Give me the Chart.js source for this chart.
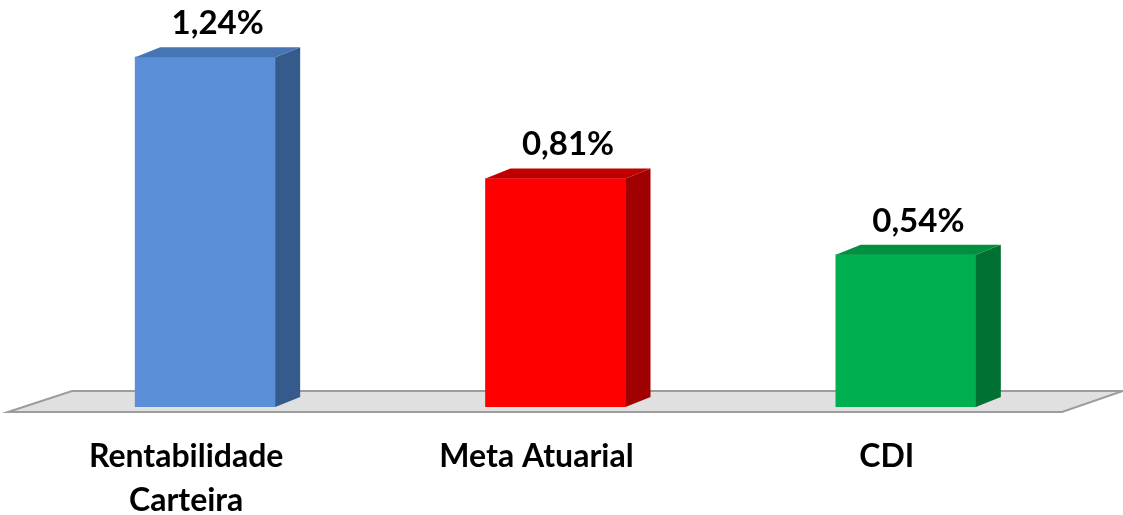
<!DOCTYPE html>
<html>
<head>
<meta charset="utf-8">
<script src="https://cdn.jsdelivr.net/npm/chart.js@4"></script>
<style>
  html, body { margin: 0; padding: 0; background: #fff; }
  #wrap { width: 1123px; height: 515px; }
</style>
</head>
<body>
<div id="wrap"><canvas id="grafico"></canvas></div>
<script>
// dados do gráfico
const categorias = [['Rentabilidade', 'Carteira'], ['Meta Atuarial'], ['CDI']];
const valores = [1.24, 0.81, 0.54];
const rotulos = ['1,24%', '0,81%', '0,54%'];

const corFrente = ['#5A8FD8', '#FF0000', '#00B050'];
const corLado = ['#355B8C', '#A00000', '#007033'];
const corTopo = ['#4675B5', '#C00000', '#009040'];

const PROF_X = 25, PROF_Y = 10; // profundidade das barras

// piso e faces 3D
const efeito3d = {
  id: 'efeito3d',
  beforeDatasetsDraw(chart) {
    const ctx = chart.ctx;
    ctx.save();
    ctx.beginPath();
    ctx.moveTo(8, 412);
    ctx.lineTo(72, 391);
    ctx.lineTo(1123, 391);
    ctx.lineTo(1062, 412);
    ctx.closePath();
    ctx.fillStyle = '#e0e0e0';
    ctx.fill();
    ctx.strokeStyle = '#9c9c9c';
    ctx.lineWidth = 2;
    ctx.stroke();
    ctx.restore();
  },
  afterDatasetsDraw(chart) {
    const ctx = chart.ctx;
    const meta = chart.getDatasetMeta(0);
    ctx.save();
    meta.data.forEach((bar, i) => {
      const p = bar.getProps(['x', 'y', 'base', 'width'], true);
      const l = p.x - p.width / 2, r = p.x + p.width / 2;
      // lado
      ctx.beginPath();
      ctx.moveTo(r, p.y);
      ctx.lineTo(r + PROF_X, p.y - PROF_Y);
      ctx.lineTo(r + PROF_X, p.base - PROF_Y);
      ctx.lineTo(r, p.base);
      ctx.closePath();
      ctx.fillStyle = corLado[i];
      ctx.fill();
      // topo
      ctx.beginPath();
      ctx.moveTo(l, p.y);
      ctx.lineTo(l + PROF_X, p.y - PROF_Y);
      ctx.lineTo(r + PROF_X, p.y - PROF_Y);
      ctx.lineTo(r, p.y);
      ctx.closePath();
      ctx.fillStyle = corTopo[i];
      ctx.fill();
      // valor
      ctx.fillStyle = '#000';
      ctx.font = 'bold 33px Lato';
      ctx.textAlign = 'center';
      ctx.textBaseline = 'alphabetic';
      ctx.fillText(rotulos[i], p.x + PROF_X / 2, p.y - 23);
      // categoria
      ctx.font = 'bold 32px Lato';
      categorias[i].forEach((linha, k) => {
        ctx.fillText(linha, p.x - 19, 467 + k * 44);
      });
    });
    ctx.restore();
  }
};

new Chart(document.getElementById('grafico'), {
  type: 'bar',
  data: {
    labels: categorias,
    datasets: [{
      data: valores,
      backgroundColor: corFrente,
      borderWidth: 0,
      barThickness: 140
    }]
  },
  options: {
    responsive: true,
    maintainAspectRatio: false,
    animation: false,
    layout: { padding: { left: 30, right: 42, top: 12, bottom: 108 } },
    plugins: { legend: { display: false }, tooltip: { enabled: false } },
    scales: {
      x: { display: false },
      y: { display: false, min: 0, max: 1.4 }
    }
  },
  plugins: [efeito3d]
});
</script>
</body>
</html>
